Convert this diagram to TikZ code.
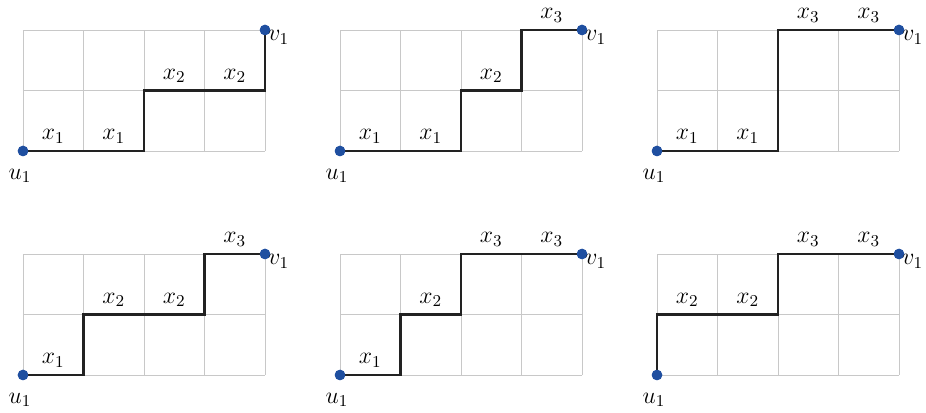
\documentclass[tikz,border=0pt]{standalone}
\usepackage{fix-cm}
\definecolor{gridc}{HTML}{C8C8C8}
\definecolor{pathc}{HTML}{222222}
\definecolor{dotc}{HTML}{1F4FA0}
\tikzset{
  gridline/.style={draw=gridc, line width=0.55pt},
  walk/.style={draw=pathc, line width=1.45pt, line join=miter},
  dot/.style={circle, fill=dotc, inner sep=0pt, minimum size=0.21cm},
  lab/.style={above=0.15cm, inner sep=0pt},
  ulab/.style={inner sep=0pt},
  vlab/.style={anchor=west, inner sep=0pt},
}
\newcommand{\gridcells}{%
  \foreach \gx in {0,...,4} {\draw[gridline] (\gx,0) -- (\gx,2);}
  \foreach \gy in {0,1,2} {\draw[gridline] (0,\gy) -- (4,\gy);}
}
\begin{document}
\begin{tikzpicture}[x=1.21cm, y=1.21cm, font=\fontsize{13.5}{16}\selectfont]
\useasboundingbox (0,0) rectangle (926/60.5, -413/60.5);
% panel 1
\begin{scope}[shift={(23/60.5, -151/60.5)}]
  \gridcells
  \node[dot] (ua) at (0,0) {};
  \node[dot] (va) at (4,2) {};
  \draw[walk] (ua.center) -- (2,0) -- (2,1) -- (4,1) -- (va.center);
  \node[dot] at (0,0) {}; \node[dot] at (4,2) {};
  \node[lab] (a1) at (0.5,0) {$x_1$};
  \node[lab] (a2) at (1.5,0) {$x_1$};
  \node[lab] (a3) at (2.5,1) {$x_2$};
  \node[lab] (a4) at (3.5,1) {$x_2$};
  \node[ulab] (ula) at (-0.05,-0.41) {$u_1$};
  \node[vlab] (vla) at (4.05,1.88) {$v_1$};
\end{scope}
% panel 2
\begin{scope}[shift={(340/60.5, -151/60.5)}]
  \gridcells
  \node[dot] (ub) at (0,0) {};
  \node[dot] (vb) at (4,2) {};
  \draw[walk] (ub.center) -- (2,0) -- (2,1) -- (3,1) -- (3,2) -- (vb.center);
  \node[dot] at (0,0) {}; \node[dot] at (4,2) {};
  \node[lab] (b1) at (0.5,0) {$x_1$};
  \node[lab] (b2) at (1.5,0) {$x_1$};
  \node[lab] (b3) at (2.5,1) {$x_2$};
  \node[lab] (b4) at (3.5,2) {$x_3$};
  \node[ulab] (ulb) at (-0.05,-0.41) {$u_1$};
  \node[vlab] (vlb) at (4.05,1.88) {$v_1$};
\end{scope}
% panel 3
\begin{scope}[shift={(657/60.5, -151/60.5)}]
  \gridcells
  \node[dot] (uc) at (0,0) {};
  \node[dot] (vc) at (4,2) {};
  \draw[walk] (uc.center) -- (2,0) -- (2,2) -- (vc.center);
  \node[dot] at (0,0) {}; \node[dot] at (4,2) {};
  \node[lab] (c1) at (0.5,0) {$x_1$};
  \node[lab] (c2) at (1.5,0) {$x_1$};
  \node[lab] (c3) at (2.5,2) {$x_3$};
  \node[lab] (c4) at (3.5,2) {$x_3$};
  \node[ulab] (ulc) at (-0.05,-0.41) {$u_1$};
  \node[vlab] (vlc) at (4.05,1.88) {$v_1$};
\end{scope}
% panel 4
\begin{scope}[shift={(23/60.5, -375/60.5)}]
  \gridcells
  \node[dot] (ud) at (0,0) {};
  \node[dot] (vd) at (4,2) {};
  \draw[walk] (ud.center) -- (1,0) -- (1,1) -- (3,1) -- (3,2) -- (vd.center);
  \node[dot] at (0,0) {}; \node[dot] at (4,2) {};
  \node[lab] (d1) at (0.5,0) {$x_1$};
  \node[lab] (d2) at (1.5,1) {$x_2$};
  \node[lab] (d3) at (2.5,1) {$x_2$};
  \node[lab] (d4) at (3.5,2) {$x_3$};
  \node[ulab] (uld) at (-0.05,-0.41) {$u_1$};
  \node[vlab] (vld) at (4.05,1.88) {$v_1$};
\end{scope}
% panel 5
\begin{scope}[shift={(340/60.5, -375/60.5)}]
  \gridcells
  \node[dot] (ue) at (0,0) {};
  \node[dot] (ve) at (4,2) {};
  \draw[walk] (ue.center) -- (1,0) -- (1,1) -- (2,1) -- (2,2) -- (ve.center);
  \node[dot] at (0,0) {}; \node[dot] at (4,2) {};
  \node[lab] (e1) at (0.5,0) {$x_1$};
  \node[lab] (e2) at (1.5,1) {$x_2$};
  \node[lab] (e3) at (2.5,2) {$x_3$};
  \node[lab] (e4) at (3.5,2) {$x_3$};
  \node[ulab] (ule) at (-0.05,-0.41) {$u_1$};
  \node[vlab] (vle) at (4.05,1.88) {$v_1$};
\end{scope}
% panel 6
\begin{scope}[shift={(657/60.5, -375/60.5)}]
  \gridcells
  \node[dot] (uf) at (0,0) {};
  \node[dot] (vf) at (4,2) {};
  \draw[walk] (uf.center) -- (0,1) -- (2,1) -- (2,2) -- (vf.center);
  \node[dot] at (0,0) {}; \node[dot] at (4,2) {};
  \node[lab] (f1) at (0.5,1) {$x_2$};
  \node[lab] (f2) at (1.5,1) {$x_2$};
  \node[lab] (f3) at (2.5,2) {$x_3$};
  \node[lab] (f4) at (3.5,2) {$x_3$};
  \node[ulab] (ulf) at (-0.05,-0.41) {$u_1$};
  \node[vlab] (vlf) at (4.05,1.88) {$v_1$};
\end{scope}
\end{tikzpicture}
\end{document}
